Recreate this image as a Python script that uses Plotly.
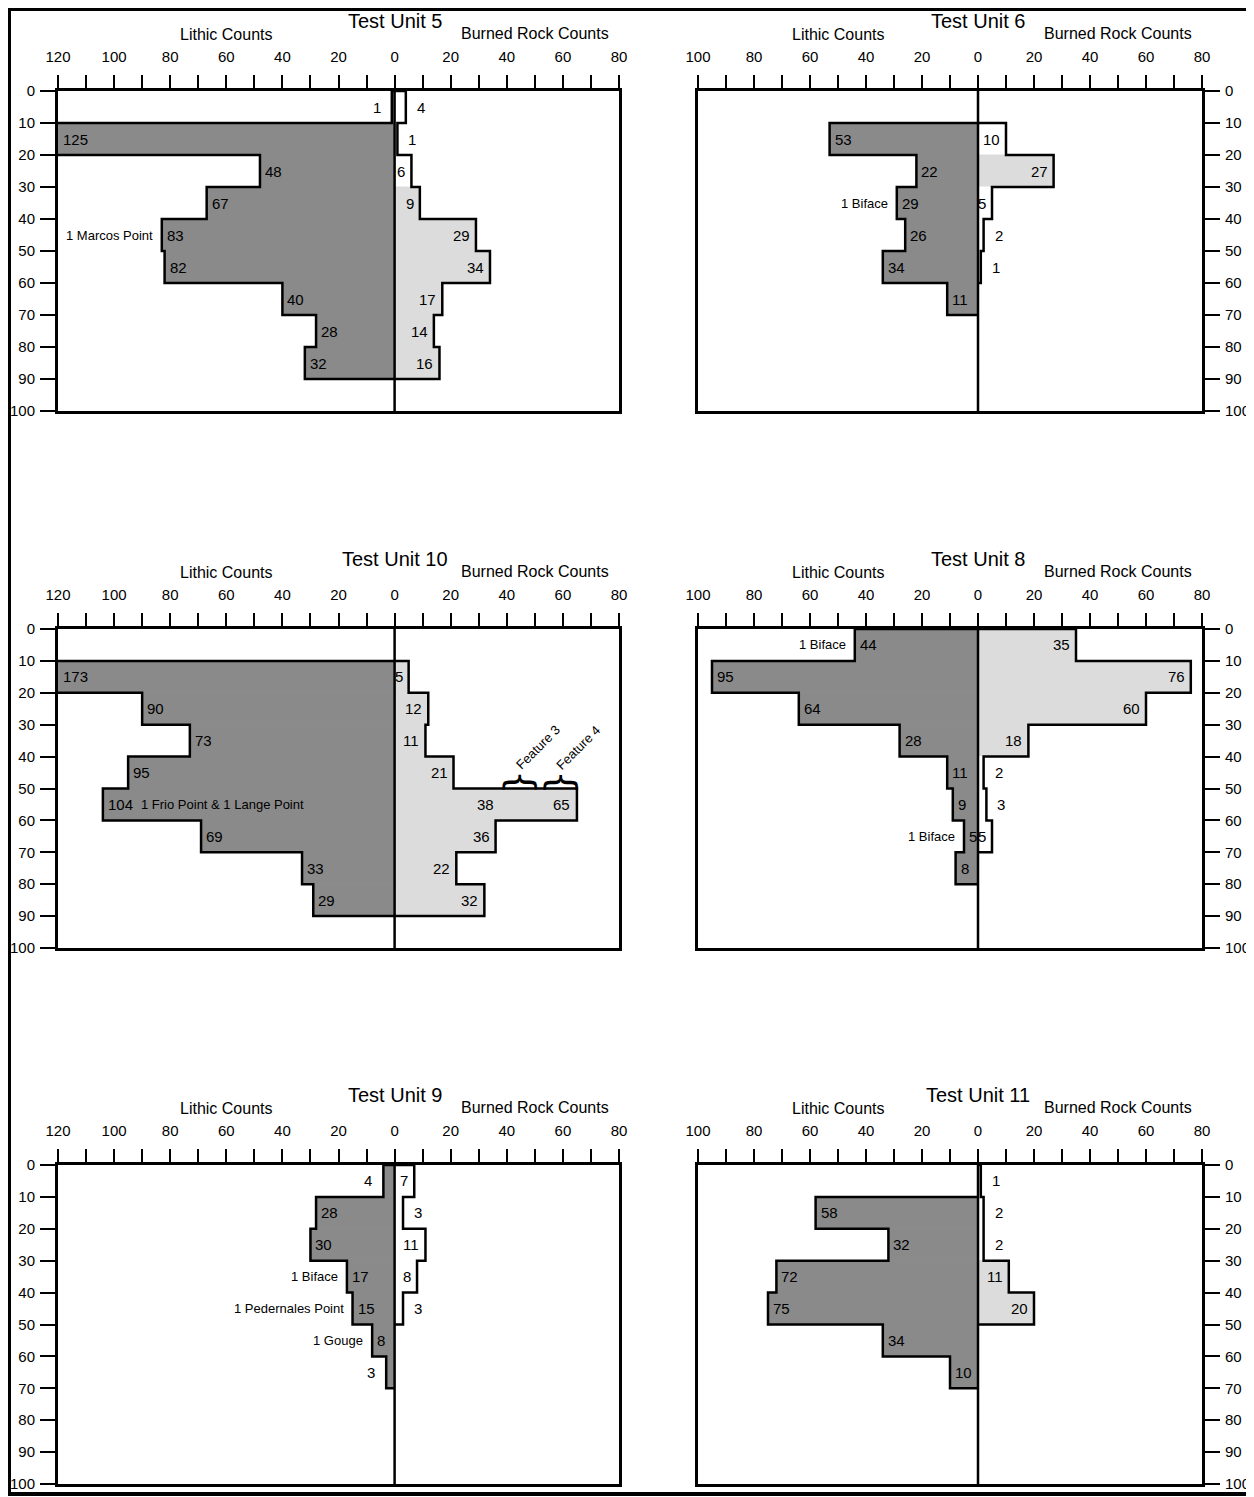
import plotly.graph_objects as go

# depth levels (cm below surface), 10 cm each
level_step = 10
depth_ticks = list(range(0, 101, 10))

# Test Unit 5
tu5_lithic = [1, 125, 48, 67, 83, 82, 40, 28, 32]
tu5_burned = [4, 1, 6, 9, 29, 34, 17, 14, 16]
tu5_shade = [0, 0, 0, 1, 1, 1, 1, 1, 1]
tu5_note_levels = [4]
tu5_note_text = ["1 Marcos Point"]

# Test Unit 6
tu6_lithic = [None, 53, 22, 29, 26, 34, 11]
tu6_burned = [None, 10, 27, 5, 2, 1]
tu6_shade = [0, 0, 1, 0, 0, 0]
tu6_note_levels = [3]
tu6_note_text = ["1 Biface"]

# Test Unit 10
tu10_lithic = [None, 173, 90, 73, 95, 104, 69, 33, 29]
tu10_burned = [None, 5, 12, 11, 21, 65, 36, 22, 32]
tu10_shade = [0, 1, 1, 1, 1, 1, 1, 1, 1]
tu10_note_levels = [5]
tu10_note_text = ["1 Frio Point & 1 Lange Point"]
tu10_features = ["Feature 3", "Feature 4"]
tu10_feature_counts = [38, 65]
tu10_feature_level = 5

# Test Unit 8
tu8_lithic = [44, 95, 64, 28, 11, 9, 5, 8]
tu8_burned = [35, 76, 60, 18, 2, 3, 5]
tu8_shade = [1, 1, 1, 1, 0, 0, 0]
tu8_note_levels = [0, 6]
tu8_note_text = ["1 Biface", "1 Biface"]

# Test Unit 9
tu9_lithic = [4, 28, 30, 17, 15, 8, 3]
tu9_burned = [7, 3, 11, 8, 3]
tu9_shade = [0, 0, 0, 0, 0]
tu9_note_levels = [3, 4, 5]
tu9_note_text = ["1 Biface", "1 Pedernales Point", "1 Gouge"]

# Test Unit 11
tu11_lithic = [None, 58, 32, 72, 75, 34, 10]
tu11_burned = [1, 2, 2, 11, 20]
tu11_shade = [0, 0, 0, 1, 1]
tu11_note_levels = []
tu11_note_text = []

panels = [
    dict(title="Test Unit 5", row=0, col=0, lith=tu5_lithic, burn=tu5_burned, shade=tu5_shade,
         nl=tu5_note_levels, nt=tu5_note_text),
    dict(title="Test Unit 6", row=0, col=1, lith=tu6_lithic, burn=tu6_burned, shade=tu6_shade,
         nl=tu6_note_levels, nt=tu6_note_text),
    dict(title="Test Unit 10", row=1, col=0, lith=tu10_lithic, burn=tu10_burned, shade=tu10_shade,
         nl=tu10_note_levels, nt=tu10_note_text),
    dict(title="Test Unit 8", row=1, col=1, lith=tu8_lithic, burn=tu8_burned, shade=tu8_shade,
         nl=tu8_note_levels, nt=tu8_note_text),
    dict(title="Test Unit 9", row=2, col=0, lith=tu9_lithic, burn=tu9_burned, shade=tu9_shade,
         nl=tu9_note_levels, nt=tu9_note_text),
    dict(title="Test Unit 11", row=2, col=1, lith=tu11_lithic, burn=tu11_burned, shade=tu11_shade,
         nl=tu11_note_levels, nt=tu11_note_text),
]

W, H = 1254, 1497
PAD = 8  # page margin around the figure
col_px = [(58, 619), (698, 1202)]
row_px = [(91, 411), (629, 948), (1165, 1484)]
col_xmax = [120, 100]

LITHIC = "#8a8a8a"
BURNED = "#dcdcdc"
FONT = "Liberation Sans, Arial, sans-serif"

fig = go.Figure()
annotations = []
shapes = []


def outline(values, sign):
    xs, ys = [], []
    for i, v in enumerate(values):
        if v is None:
            continue
        d = i * level_step
        if not xs:
            xs.append(0)
            ys.append(d)
        xs += [sign * v, sign * v]
        ys += [d, d + level_step]
    xs.append(0)
    ys.append(ys[-1])
    return xs, ys


def txt(x, y, xa, ya, text, size, **kw):
    annotations.append(dict(x=x, y=y, xref=xa, yref=ya, text=text, showarrow=False,
                            font=dict(size=size, color="black", family=FONT), **kw))


for k, p in enumerate(panels):
    n = "" if k == 0 else str(k + 1)
    xa, ya = "x" + n, "y" + n
    xmax = col_xmax[p["col"]]
    l, r = (v - PAD for v in col_px[p["col"]])
    t, b = (v - PAD for v in row_px[p["row"]])

    tickvals = list(range(-xmax, 81, 10))
    fig.layout["xaxis" + n] = dict(
        domain=[l / W, r / W], range=[-xmax, 80], side="top", anchor=ya,
        tickmode="array", tickvals=tickvals,
        ticktext=[str(abs(v)) if v % 20 == 0 else "" for v in tickvals],
        ticks="outside", ticklen=13, tickwidth=1.5, tickcolor="black",
        ticklabelstandoff=7, automargin=False,
        showline=True, linewidth=3, linecolor="black", mirror=True,
        showgrid=False, zeroline=False, tickfont=dict(size=15, color="black", family=FONT),
    )
    fig.layout["yaxis" + n] = dict(
        domain=[1 - b / H, 1 - t / H], range=[100, 0], anchor=xa,
        side="left" if p["col"] == 0 else "right",
        tickmode="array", tickvals=depth_ticks,
        ticks="outside", ticklen=15, tickwidth=1.5, tickcolor="black",
        ticklabelstandoff=2, automargin=False,
        showline=True, linewidth=3, linecolor="black", mirror=True,
        showgrid=False, zeroline=False, tickfont=dict(size=15, color="black", family=FONT),
    )

    # lithic fill (left side)
    lv = [(i, v) for i, v in enumerate(p["lith"]) if v is not None]
    fig.add_trace(go.Bar(
        orientation="h", x=[-v for _, v in lv], y=[i * level_step + 5 for i, _ in lv],
        width=level_step, marker=dict(color=LITHIC, line=dict(width=1, color=LITHIC)),
        xaxis=xa, yaxis=ya, showlegend=False, hoverinfo="skip",
    ))
    # burned rock fill (right side)
    bv = [(i, v, s) for (i, v), s in zip(enumerate(p["burn"]), p["shade"]) if v is not None]
    bcol = [BURNED if s else "white" for _, _, s in bv]
    fig.add_trace(go.Bar(
        orientation="h", x=[v for _, v, _ in bv], y=[i * level_step + 5 for i, _, _ in bv],
        width=level_step, marker=dict(color=bcol, line=dict(width=1, color=bcol)),
        xaxis=xa, yaxis=ya, showlegend=False, hoverinfo="skip",
    ))
    for vals, sign in ((p["lith"], -1), (p["burn"], 1)):
        xs, ys = outline(vals, sign)
        fig.add_trace(go.Scatter(
            x=xs, y=ys, mode="lines", line=dict(color="black", width=2.5),
            xaxis=xa, yaxis=ya, showlegend=False, hoverinfo="skip",
        ))

    # value labels
    for i, v in lv:
        inside = v >= 5
        txt(max(-v, -xmax), i * level_step + 5, xa, ya, str(v), 15,
            xanchor="left" if inside else "right", xshift=3 if inside else -9)
    for i, v, _ in bv:
        if p["title"] == "Test Unit 10" and i == tu10_feature_level:
            continue
        inside = v >= 5
        txt(v, i * level_step + 5, xa, ya, str(v), 15,
            xanchor="right" if inside else "left", xshift=-4 if inside else 9)

    # artifact notes
    for lvl, note in zip(p["nl"], p["nt"]):
        v = p["lith"][lvl]
        if p["title"] == "Test Unit 10":
            txt(-v, lvl * level_step + 5, xa, ya, note, 13, xanchor="left", xshift=36)
        else:
            txt(-v, lvl * level_step + 5, xa, ya, note, 13, xanchor="right", xshift=-7)

    # headings
    dom = ya + " domain"
    txt(0, 1, xa, dom, p["title"], 20, yanchor="middle", yshift=70)
    txt(-60 if p["col"] == 0 else -50, 1, xa, dom, "Lithic Counts", 16,
        yanchor="middle", yshift=57)
    txt(50, 1, xa, dom, "Burned Rock Counts", 16, yanchor="middle", yshift=58)

    shapes.append(dict(type="line", xref=xa, yref=ya, x0=0, x1=0, y0=0, y1=100,
                       line=dict(color="black", width=2.5), layer="above"))

    if p["title"] == "Test Unit 10":
        yl = tu10_feature_level * level_step
        for name, cnt, bx in zip(tu10_features, tu10_feature_counts, [45.5, 60]):
            txt(cnt, yl + 5, xa, ya, str(cnt), 15, xanchor="right", xshift=-5)
            annotations.append(dict(
                x=bx, y=yl - 2, xref=xa, yref=ya, text="{", textangle=90,
                showarrow=False, font=dict(size=38, color="black", family="DejaVu Sans")))
            txt(bx + 5.5, yl - 13, xa, ya, name, 13, textangle=-45)

shapes.append(dict(type="rect", xref="paper", yref="paper",
                   x0=(9 - PAD) / W, x1=(1250 - PAD) / W,
                   y0=1 - (1494 - PAD) / H, y1=1 - 1 / H,
                   line=dict(color="black", width=4), layer="above"))

fig.update_layout(
    width=W, height=H, margin=dict(l=0, r=0, t=0, b=0, autoexpand=False),
    paper_bgcolor="white", plot_bgcolor="white",
    barmode="overlay", showlegend=False,
    font=dict(family=FONT, color="black"),
    annotations=annotations, shapes=shapes,
)

fig.write_html("out.html")
